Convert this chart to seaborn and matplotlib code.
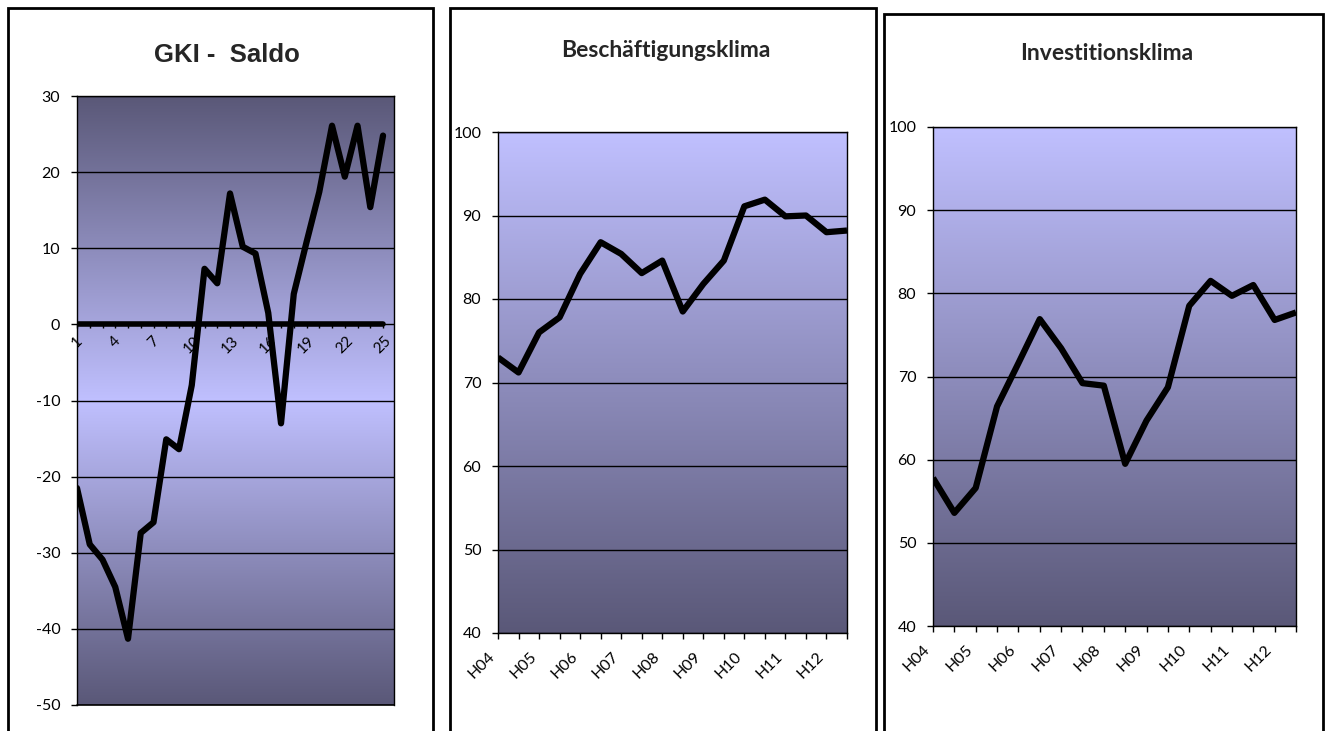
import numpy as np
import pandas as pd
import seaborn as sns
from matplotlib import pyplot as plt
from matplotlib.patches import Rectangle
from matplotlib.colors import to_rgb

# ---- data ----
# GKI Saldo, 25 survey waves
saldo_welle = list(range(1, 26))
saldo = [-21.5, -28.9, -30.9, -34.5, -41.3, -27.4, -26.0, -15.1, -16.4, -8.0,
         7.3, 5.4, 17.2, 10.2, 9.3, 1.5, -13.0, 4.0, 10.8, 17.4,
         26.1, 19.4, 26.1, 15.4, 24.8]
saldo_ticks = [1, 4, 7, 10, 13, 16, 19, 22, 25]

# half-year series 2004 H1 .. 2012 H2
halbjahr = ['04-1', '04-2', '05-1', '05-2', '06-1', '06-2', '07-1', '07-2', '08-1',
            '08-2', '09-1', '09-2', '10-1', '10-2', '11-1', '11-2', '12-1', '12-2']
beschaeftigung = [73.0, 71.2, 76.0, 77.8, 83.0, 86.8, 85.4, 83.1, 84.6,
                  78.5, 81.8, 84.6, 91.1, 91.9, 89.9, 90.0, 88.0, 88.2]
investition = [57.8, 53.6, 56.6, 66.4, 71.6, 76.9, 73.4, 69.2, 68.9,
               59.5, 64.7, 68.7, 78.5, 81.5, 79.7, 81.0, 76.8, 77.7]
jahr_labels = ['H04', 'H05', 'H06', 'H07', 'H08', 'H09', 'H10', 'H11', 'H12']

sns.set_style("white")
plt.rcParams['font.family'] = ['Lato', 'DejaVu Sans']
plt.rcParams['axes.unicode_minus'] = False

W, H = 1330, 731
fig = plt.figure(figsize=(W / 100, H / 100), dpi=100)

light = np.array(to_rgb('#c0c0ff'))
dark = np.array(to_rgb('#5a5878'))


def add_ax(left, right, top, bottom):
    return fig.add_axes([left / W, 1 - bottom / H, (right - left) / W, (bottom - top) / H])


def gradient(ax, x0, x1, y0, y1, centre=False):
    t = np.linspace(0, 1, 256)
    if centre:
        w = np.abs(t - 0.5) * 2
    else:
        w = 1 - t
    cols = light + (dark - light) * w[:, None]
    ax.imshow(cols[:, None, :], extent=(x0, x1, y0, y1), origin='lower',
              aspect='auto', zorder=0, interpolation='bilinear')


def frame(left, right, top):
    fig.add_artist(Rectangle((left / W, -0.05), (right - left) / W, 1.05 - top / H,
                             transform=fig.transFigure, fill=False, ec='black',
                             lw=2, clip_on=False))


def style(ax):
    ax.set_axisbelow(True)
    ax.yaxis.grid(True, color='black', lw=1)
    ax.xaxis.grid(False)
    for s in ax.spines.values():
        s.set_color('black')
        s.set_linewidth(1)
    ax.tick_params(axis='y', which='both', left=True, direction='out', length=4,
                   width=1, color='black', labelcolor='black', pad=8, labelsize=11.5)


# ---- panel 1: GKI Saldo ----
ax1 = add_ax(77, 394, 96, 705)
gradient(ax1, 1, 25.86, -50, 30, centre=True)
style(ax1)
ax1.hlines(0, saldo_welle[0], saldo_welle[-1], color='black', lw=4, capstyle='round', zorder=3)
sns.lineplot(x=saldo_welle, y=saldo, ax=ax1, color='black', lw=4.5, legend=False,
             zorder=4, solid_joinstyle='round', solid_capstyle='round')
ax1.set_xlim(1, 25.86)
ax1.set_ylim(-50, 30)
ax1.set_yticks(range(-50, 31, 10))
ax1.spines['bottom'].set_position(('data', 0))
ax1.spines['bottom'].set_visible(False)
ax1.axhline(-50, color='black', lw=1.2, clip_on=False)
ax1.set_xticks(saldo_ticks)
ax1.set_xticks(saldo_welle, minor=True)
ax1.set_xticklabels([str(v) for v in saldo_ticks], rotation=45, ha='center')
ax1.tick_params(axis='x', which='both', bottom=True, direction='out', length=3,
                width=1, color='black', labelcolor='black', pad=4, labelsize=11)
ax1.set_xlabel('')
ax1.set_ylabel('')
fig.text(227 / W, 1 - 55 / H, 'GKI -  Saldo', ha='center', va='center',
         fontsize=18.5, fontweight='bold', family=['Liberation Sans', 'DejaVu Sans'])
frame(8, 433, 8)


# ---- panels 2 and 3 ----
def half_panel(box, values, title, title_xy, frame_box):
    ax = add_ax(*box)
    x = np.arange(len(halbjahr))
    gradient(ax, 0, len(halbjahr) - 1, 40, 100)
    style(ax)
    df = pd.DataFrame({'pos': x, 'wert': values})
    sns.lineplot(data=df, x='pos', y='wert', ax=ax, color='black', lw=4.5, legend=False,
                 zorder=4, solid_joinstyle='round', solid_capstyle='butt')
    ax.set_xlim(0, len(halbjahr) - 1)
    ax.set_ylim(40, 100)
    ax.set_yticks(range(40, 101, 10))
    ax.set_xticks(x[::2])
    ax.set_xticks(x[1::2], minor=True)
    ax.set_xticklabels(jahr_labels, rotation=45, ha='right')
    ax.tick_params(axis='x', which='both', bottom=True, direction='out', length=4,
                   width=1, color='black', labelcolor='black', pad=8, labelsize=11.5)
    ax.set_xlabel('')
    ax.set_ylabel('')
    fig.text(title_xy[0] / W, 1 - title_xy[1] / H, title, ha='center', va='baseline',
             fontsize=16.5, fontweight='bold')
    frame(*frame_box)
    return ax


ax2 = half_panel((498, 847, 132, 633), beschaeftigung, 'Beschäftigungsklima', (666, 57), (450, 876, 8))
ax3 = half_panel((933, 1296, 127, 626), investition, 'Investitionsklima', (1107, 60), (884, 1323, 14))

fig.savefig('out.png', dpi=100)
